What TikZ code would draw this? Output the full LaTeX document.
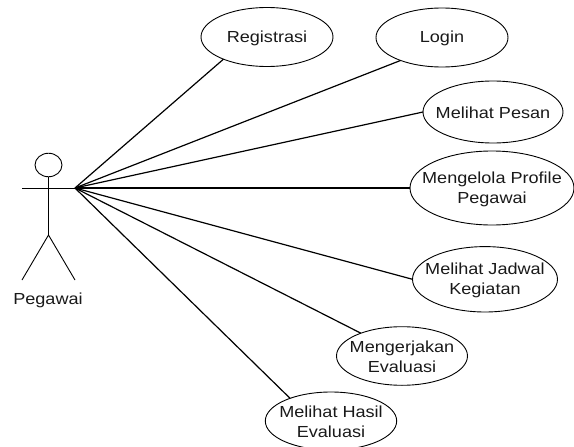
\documentclass[tikz,border=0pt]{standalone}
\usepackage{fontspec}
\setmainfont[FakeStretch=1.13]{Liberation Sans}
\usetikzlibrary{shapes.geometric}
\tikzset{
  uc/.style n args={3}{ellipse,draw=black,line width=0.9pt,inner sep=0pt,outer sep=0pt,
    minimum width=2*#1,minimum height=2*#2,
    label={[txt]center:#3}},
  txt/.style={font=\fontsize{16}{19.8}\selectfont,align=center,inner sep=0pt,text=black!90,yshift=-1pt},
  conn/.style={line width=1.2pt,black},
  stick/.style={line width=0.9pt,black}
}
\begin{document}
\begin{tikzpicture}[x=1pt,y=-1pt]
\useasboundingbox (0,0) rectangle (574,447);
\node[uc={66pt}{29.5pt}{Registrasi}] (reg) at (267,37) {};
\node[uc={66pt}{29.5pt}{Login}] (log) at (442,37.5) {};
\node[uc={70pt}{31pt}{Melihat Pesan}] (pes) at (493,112) {};
\node[uc={82pt}{37pt}{Mengelola Profile\\Pegawai}] (pro) at (492,188) {};
\node[uc={72.5pt}{32.7pt}{Melihat Jadwal\\Kegiatan}] (jad) at (485,279.3) {};
\node[uc={65.5pt}{29.3pt}{Mengerjakan\\Evaluasi}] (eva) at (402,356) {};
\node[uc={65.7pt}{29pt}{Melihat Hasil\\Evaluasi}] (has) at (331,421) {};
% actor
\node[ellipse,draw=black,line width=0.9pt,inner sep=0pt,outer sep=0pt,minimum width=27pt,minimum height=23.5pt] (head) at (48.5,165) {};
\coordinate (hip) at (48.5,235);
\coordinate (handL) at (22,188);
\coordinate (hand) at (75,188);
\coordinate (footL) at (22,280);
\coordinate (footR) at (75,280);
\coordinate (neck) at (head.south);
\draw[stick] (neck) -- (hip);
\draw[stick] (handL) -- (hand);
\draw[stick] (footL) -- (hip) -- (footR);
\node[txt] (actor) at (48,299) {Pegawai};
% connectors
\draw[conn] (hand) -- (reg.207.6);
\draw[conn] (hand) -- (log.209.2);
\draw[conn] (hand) -- (pes.west);
\draw[conn] (hand) -- (pro.west);
\draw[conn] (hand) -- (jad.west);
\draw[conn] (hand) -- (eva.151.3);
\draw[conn] (hand) -- (has.151.3);
\end{tikzpicture}
\end{document}
